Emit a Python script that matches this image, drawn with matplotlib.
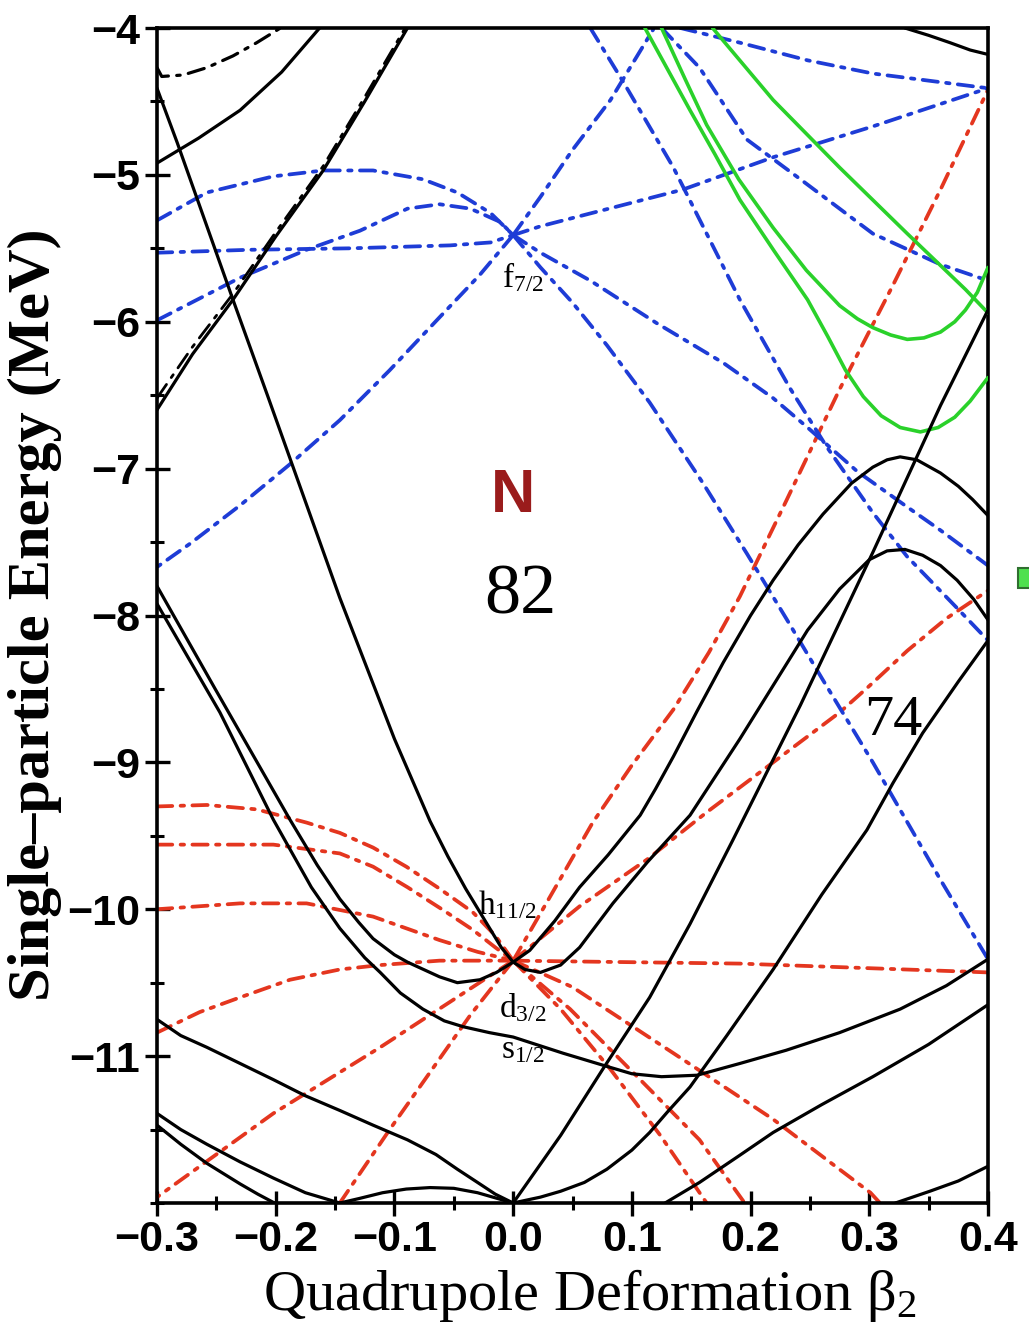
import matplotlib
matplotlib.use('Agg')
import matplotlib.pyplot as plt
from matplotlib.patches import Rectangle
from matplotlib.ticker import FixedLocator, FixedFormatter, MultipleLocator

plt.rcParams['lines.scale_dashes'] = False
plt.rcParams['mathtext.fontset'] = 'stix'

# ---------------- data (beta2, energy in MeV) ----------------
# black solid levels
blk_steep_b = [-0.300, -0.283, -0.236, -0.207, -0.146, -0.100, -0.070, -0.055, -0.040, -0.025, -0.010, 0.000, 0.010, 0.023, 0.040, 0.056, 0.084, 0.113, 0.149, 0.191, 0.248, 0.275, 0.300, 0.315, 0.330, 0.345, 0.360, 0.374, 0.388, 0.400]
blk_steep_e = [-4.41, -4.78, -5.85, -6.50, -7.88, -8.84, -9.40, -9.64, -9.86, -10.06, -10.26, -10.36, -10.41, -10.43, -10.38, -10.26, -9.96, -9.68, -9.36, -8.84, -8.10, -7.82, -7.62, -7.56, -7.55, -7.59, -7.66, -7.76, -7.89, -8.03]

blk_u1_b = [-0.300, -0.251, -0.188, -0.165, -0.146, -0.130, -0.118, -0.100, -0.089, -0.062, -0.047, -0.028, -0.014, 0.000, 0.014, 0.035, 0.056, 0.080, 0.107, 0.120, 0.135, 0.155, 0.177, 0.200, 0.219, 0.240, 0.261, 0.285, 0.303, 0.315, 0.326, 0.340, 0.360, 0.375, 0.387, 0.400]
blk_u1_e = [-7.80, -8.50, -9.39, -9.70, -9.93, -10.09, -10.20, -10.31, -10.36, -10.46, -10.50, -10.48, -10.43, -10.36, -10.28, -10.08, -9.85, -9.63, -9.36, -9.18, -8.96, -8.65, -8.32, -8.00, -7.76, -7.52, -7.31, -7.10, -6.99, -6.94, -6.92, -6.94, -7.03, -7.12, -7.21, -7.32]

blk_s_b = [-0.300, -0.247, -0.202, -0.170, -0.146, -0.125, -0.112, -0.095, -0.076, -0.058, -0.042, -0.020, 0.000, 0.042, 0.079, 0.100, 0.125, 0.155, 0.191, 0.230, 0.275, 0.326, 0.365, 0.400]
blk_s_e = [-7.92, -8.66, -9.39, -9.85, -10.13, -10.33, -10.43, -10.57, -10.68, -10.76, -10.80, -10.84, -10.87, -10.98, -11.07, -11.12, -11.14, -11.13, -11.05, -10.96, -10.84, -10.68, -10.52, -10.34]

blk_c_b = [0.000, 0.040, 0.077, 0.115, 0.149, 0.185, 0.242, 0.303, 0.360, 0.400]
blk_c_e = [-12.00, -11.54, -11.07, -10.60, -10.10, -9.53, -8.61, -7.57, -6.57, -5.92]

blk_d_b = [0.000, 0.023, 0.040, 0.060, 0.079, 0.100, 0.115, 0.130, 0.149, 0.180, 0.219, 0.260, 0.298, 0.320, 0.345, 0.375, 0.400]
blk_d_e = [-12.00, -11.96, -11.92, -11.86, -11.77, -11.64, -11.52, -11.38, -11.21, -10.86, -10.41, -9.90, -9.46, -9.14, -8.80, -8.45, -8.17]

blk_f_b = [0.128, 0.157, 0.190, 0.219, 0.260, 0.303, 0.350, 0.400]
blk_f_e = [-12.00, -11.86, -11.68, -11.52, -11.33, -11.14, -10.92, -10.65]

blk_g_b = [0.322, 0.351, 0.375, 0.400]
blk_g_e = [-12.00, -11.92, -11.85, -11.75]

blk_tr_b = [0.330, 0.350, 0.368, 0.385, 0.400]
blk_tr_e = [-4.00, -4.05, -4.10, -4.15, -4.18]

blk_la_b = [-0.300, -0.280, -0.258, -0.230, -0.202, -0.175, -0.146, -0.118, -0.089, -0.065, -0.047, -0.030, -0.015, 0.000]
blk_la_e = [-10.75, -10.86, -10.94, -11.05, -11.16, -11.27, -11.37, -11.47, -11.57, -11.67, -11.77, -11.86, -11.94, -12.00]

blk_lb_b = [-0.300, -0.280, -0.258, -0.230, -0.202, -0.175, -0.146, -0.130, -0.110, -0.090, -0.070, -0.050, -0.030, -0.015, 0.000]
blk_lb_e = [-11.39, -11.50, -11.60, -11.72, -11.83, -11.93, -12.00, -11.97, -11.93, -11.905, -11.895, -11.90, -11.93, -11.965, -12.00]

blk_lc_b = [-0.300, -0.280, -0.258, -0.230, -0.215, -0.201]
blk_lc_e = [-11.47, -11.60, -11.73, -11.87, -11.94, -12.00]

blk_kb_b = [-0.300, -0.270, -0.236, -0.200, -0.160, -0.125, -0.089]
blk_kb_e = [-6.60, -6.22, -5.85, -5.42, -4.97, -4.50, -4.00]

blk_kc_b = [-0.300, -0.265, -0.230, -0.195, -0.163]
blk_kc_e = [-4.92, -4.75, -4.56, -4.30, -4.00]

# black dash-dot levels
blk_dd1_b = [-0.300, -0.296, -0.278, -0.258, -0.236, -0.216, -0.196]
blk_dd1_e = [-4.27, -4.33, -4.32, -4.27, -4.19, -4.10, -4.00]

blk_dd2_b = [-0.300, -0.270, -0.236, -0.200, -0.160, -0.125, -0.091]
blk_dd2_e = [-6.52, -6.17, -5.81, -5.39, -4.94, -4.47, -4.00]

# red dash-dot levels (h11/2)
red_l1_b = [-0.300, -0.258, -0.216, -0.174, -0.146, -0.118, -0.090, -0.062, -0.034, -0.015, 0.000]
red_l1_e = [-9.30, -9.29, -9.32, -9.41, -9.48, -9.58, -9.71, -9.86, -10.02, -10.18, -10.35]
red_l2_b = [-0.300, -0.202, -0.146, -0.118, -0.089, -0.060, -0.034, -0.015, 0.000]
red_l2_e = [-9.56, -9.56, -9.62, -9.71, -9.85, -10.00, -10.14, -10.26, -10.35]
red_l3_b = [-0.300, -0.230, -0.174, -0.118, -0.090, -0.062, -0.030, 0.000]
red_l3_e = [-10.00, -9.96, -9.96, -10.05, -10.13, -10.21, -10.29, -10.35]
red_ld1_b = [-0.300, -0.264, -0.230, -0.188, -0.146, -0.112, -0.062, 0.000]
red_ld1_e = [-10.84, -10.70, -10.60, -10.48, -10.41, -10.38, -10.35, -10.35]
red_ld2_b = [0.000, -0.053, -0.112, -0.202, -0.300]
red_ld2_e = [-10.35, -10.63, -10.94, -11.39, -11.96]
red_ld3_b = [0.000, -0.036, -0.070, -0.104, -0.146]
red_ld3_e = [-10.35, -10.72, -11.11, -11.50, -12.00]
red_h_b = [0.000, 0.191, 0.400]
red_h_e = [-10.35, -10.37, -10.43]
red_u1_b = [0.000, 0.030, 0.067, 0.100, 0.135, 0.165, 0.191, 0.230, 0.275, 0.320, 0.360, 0.400]
red_u1_e = [-10.35, -9.93, -9.41, -9.02, -8.64, -8.25, -7.87, -7.22, -6.46, -5.75, -5.10, -4.42]
red_u2_b = [0.000, 0.056, 0.113, 0.163, 0.219, 0.275, 0.300, 0.332, 0.365, 0.400]
red_u2_e = [-10.35, -9.98, -9.66, -9.34, -9.00, -8.66, -8.48, -8.24, -8.02, -7.83]
red_d1_b = [0.000, 0.040, 0.082, 0.124, 0.163]
red_d1_e = [-10.35, -10.68, -11.09, -11.54, -12.00]
red_d2_b = [0.000, 0.048, 0.107, 0.157, 0.195]
red_d2_e = [-10.35, -10.68, -11.16, -11.57, -12.00]
red_d3_b = [0.000, 0.050, 0.135, 0.219, 0.301, 0.309]
red_d3_e = [-10.35, -10.53, -10.98, -11.43, -11.93, -12.00]

# blue dash-dot levels (f7/2 and above)
blu_dome1_b = [-0.300, -0.258, -0.202, -0.160, -0.118, -0.076, -0.047, -0.019, 0.000]
blu_dome1_e = [-5.31, -5.12, -5.01, -4.97, -4.97, -5.03, -5.12, -5.26, -5.41]
blu_flat_b = [-0.300, -0.222, -0.137, -0.053, -0.019, 0.000]
blu_flat_e = [-5.53, -5.51, -5.50, -5.48, -5.46, -5.41]
blu_dome2_b = [-0.300, -0.230, -0.174, -0.129, -0.089, -0.062, -0.036, -0.011, 0.000]
blu_dome2_e = [-5.99, -5.70, -5.51, -5.38, -5.23, -5.20, -5.23, -5.32, -5.41]
blu_steep_b = [0.000, -0.028, -0.062, -0.104, -0.146, -0.188, -0.230, -0.272, -0.300]
blu_steep_e = [-5.41, -5.68, -5.97, -6.33, -6.67, -6.97, -7.25, -7.51, -7.67]
blu_r1_b = [0.000, 0.023, 0.050, 0.082, 0.118]
blu_r1_e = [-5.41, -5.15, -4.83, -4.49, -4.01]
blu_r2_b = [0.000, 0.023, 0.143, 0.219, 0.303, 0.400]
blu_r2_e = [-5.41, -5.35, -5.10, -4.88, -4.67, -4.41]
blu_r3_b = [0.000, 0.023, 0.065, 0.121, 0.177, 0.219, 0.248, 0.290, 0.330, 0.360, 0.400]
blu_r3_e = [-5.41, -5.53, -5.72, -6.01, -6.28, -6.52, -6.72, -7.02, -7.25, -7.42, -7.66]
blu_r4_b = [0.000, 0.023, 0.050, 0.079, 0.115, 0.160, 0.197, 0.230, 0.261, 0.303, 0.360, 0.400]
blu_r4_e = [-5.41, -5.63, -5.87, -6.16, -6.55, -7.10, -7.58, -8.02, -8.44, -9.00, -9.80, -10.34]
blu_ta_b = [0.065, 0.093, 0.135, 0.163, 0.191, 0.233, 0.264, 0.303, 0.332, 0.374, 0.400]
blu_ta_e = [-4.00, -4.37, -4.95, -5.40, -5.85, -6.45, -6.85, -7.30, -7.60, -7.95, -8.17]
blu_tb_b = [0.125, 0.157, 0.197, 0.242, 0.303, 0.360, 0.400]
blu_tb_e = [-4.00, -4.27, -4.76, -5.03, -5.40, -5.61, -5.72]
blu_tc_b = [0.141, 0.191, 0.248, 0.303, 0.400]
blu_tc_e = [-4.00, -4.10, -4.22, -4.31, -4.41]

# green solid levels
grn_a_b = [0.125, 0.145, 0.163, 0.190, 0.219, 0.247, 0.275, 0.290, 0.303, 0.318, 0.332, 0.346, 0.360, 0.372, 0.381, 0.391, 0.400]
grn_a_e = [-4.00, -4.35, -4.66, -5.03, -5.36, -5.65, -5.89, -5.98, -6.04, -6.09, -6.12, -6.11, -6.07, -6.00, -5.92, -5.80, -5.63]
grn_b_b = [0.111, 0.130, 0.149, 0.170, 0.191, 0.220, 0.248, 0.265, 0.280, 0.295, 0.310, 0.326, 0.343, 0.358, 0.372, 0.385, 0.400]
grn_b_e = [-4.00, -4.28, -4.56, -4.86, -5.17, -5.52, -5.85, -6.10, -6.33, -6.51, -6.64, -6.72, -6.75, -6.72, -6.65, -6.54, -6.38]
grn_c_b = [0.168, 0.219, 0.275, 0.332, 0.381, 0.400]
grn_c_e = [-4.00, -4.49, -4.95, -5.40, -5.78, -5.94]

xtick_vals = [-0.3, -0.2, -0.1, 0.0, 0.1, 0.2, 0.3, 0.4]
xtick_labels = ['\u22120.3', '\u22120.2', '\u22120.1', '0.0', '0.1', '0.2', '0.3', '0.4']
ytick_vals = [-11, -10, -9, -8, -7, -6, -5, -4]
ytick_labels = ['\u221211', '\u221210', '\u22129', '\u22128', '\u22127', '\u22126', '\u22125', '\u22124']

# ---------------- figure ----------------
fig = plt.figure(figsize=(10.29, 13.43), dpi=100)
ax = fig.add_axes([157/1029, 140/1343, 831/1029, 1175/1343])

BLACK = 'black'
RED = '#e4361f'
BLUE = '#1e3cd6'
GREEN = '#2ad12a'
DD = (11, 6, 2.5, 6)

def solid(b, e, color=BLACK, lw=2.3, z=3):
    ax.plot(b, e, color=color, lw=lw, zorder=z, solid_capstyle='round', solid_joinstyle='round')

def dashdot(b, e, color, lw=2.7, dashes=DD, z=2):
    ax.plot(b, e, color=color, lw=lw, dashes=dashes, zorder=z, dash_capstyle='round', dash_joinstyle='round')

for b, e in [(red_l1_b, red_l1_e), (red_l2_b, red_l2_e), (red_l3_b, red_l3_e),
             (red_ld1_b, red_ld1_e), (red_ld2_b, red_ld2_e), (red_ld3_b, red_ld3_e),
             (red_h_b, red_h_e), (red_u1_b, red_u1_e), (red_u2_b, red_u2_e),
             (red_d1_b, red_d1_e), (red_d2_b, red_d2_e), (red_d3_b, red_d3_e)]:
    dashdot(b, e, RED)

for b, e in [(blu_dome1_b, blu_dome1_e), (blu_flat_b, blu_flat_e), (blu_dome2_b, blu_dome2_e),
             (blu_steep_b, blu_steep_e), (blu_r1_b, blu_r1_e), (blu_r2_b, blu_r2_e),
             (blu_r3_b, blu_r3_e), (blu_r4_b, blu_r4_e), (blu_ta_b, blu_ta_e),
             (blu_tb_b, blu_tb_e), (blu_tc_b, blu_tc_e)]:
    dashdot(b, e, BLUE)

for b, e in [(grn_a_b, grn_a_e), (grn_b_b, grn_b_e), (grn_c_b, grn_c_e)]:
    solid(b, e, color=GREEN, lw=2.6, z=3)

for b, e in [(blk_steep_b, blk_steep_e), (blk_u1_b, blk_u1_e), (blk_s_b, blk_s_e),
             (blk_c_b, blk_c_e), (blk_d_b, blk_d_e), (blk_f_b, blk_f_e), (blk_g_b, blk_g_e),
             (blk_tr_b, blk_tr_e), (blk_la_b, blk_la_e), (blk_lb_b, blk_lb_e),
             (blk_lc_b, blk_lc_e), (blk_kb_b, blk_kb_e), (blk_kc_b, blk_kc_e)]:
    solid(b, e)

dashdot(blk_dd1_b, blk_dd1_e, BLACK, lw=2.3, dashes=(12, 6, 2.5, 6))
dashdot(blk_dd2_b, blk_dd2_e, BLACK, lw=2.0, dashes=(12, 6, 2.5, 6))

ax.set_xlim(-0.3, 0.4)
ax.set_ylim(-12, -4)

ax.xaxis.set_major_locator(FixedLocator(xtick_vals))
ax.xaxis.set_major_formatter(FixedFormatter(xtick_labels))
ax.xaxis.set_minor_locator(MultipleLocator(0.05))
ax.yaxis.set_major_locator(FixedLocator(ytick_vals))
ax.yaxis.set_major_formatter(FixedFormatter(ytick_labels))
ax.yaxis.set_minor_locator(MultipleLocator(0.5))

tick_font = ['Liberation Sans Narrow', 'Liberation Sans', 'DejaVu Sans']
ax.tick_params(which='major', direction='inout', length=18, width=2.4, pad=3)
ax.tick_params(which='minor', direction='inout', length=10, width=2.2)
for lab in ax.get_xticklabels() + ax.get_yticklabels():
    lab.set_fontfamily(tick_font)
    lab.set_fontweight('bold')
    lab.set_fontsize(31)
for s in ax.spines.values():
    s.set_linewidth(2.6)

serif = ['Liberation Serif', 'DejaVu Serif']
fig.text(35/1029, 1 - 615/1343, 'Single\u2013particle Energy (MeV)', rotation=90,
         ha='center', va='center', fontsize=43.5, fontweight='bold', family=serif)
fig.text(590/1029, 1 - 1295/1343, 'Quadrupole Deformation $\\mathregular{\u03b2_2}$',
         ha='center', va='center', fontsize=42, family=serif)

ax.text(0.0, -7.19, 'N', ha='center', va='center', fontsize=44, fontweight='bold',
        color='#9a1c1c', family=['Liberation Sans', 'DejaVu Sans'])
ax.text(0.006, -7.87, '82', ha='center', va='center', fontsize=52, family=serif)
ax.text(0.320, -8.72, '74', ha='center', va='center', fontsize=42, family=serif)

lab_kw = dict(ha='center', va='center', fontsize=24, family=serif, zorder=6)
ax.text(0.008, -5.70, '$\\mathregular{f_{7/2}}$', **lab_kw)
ax.text(-0.005, -9.97, '$\\mathregular{h_{11/2}}$', **lab_kw)
ax.text(0.008, -10.67, '$\\mathregular{d_{3/2}}$', **lab_kw)
ax.text(0.008, -10.96, '$\\mathregular{s_{1/2}}$', **lab_kw)

fig.patches.append(Rectangle((1018/1029, 1 - 588/1343), 14/1029, 20/1343,
                             transform=fig.transFigure, facecolor='#4ee04e',
                             edgecolor='#2f6f2f', lw=1.5))

fig.savefig('out.png', dpi=100, facecolor='white')
